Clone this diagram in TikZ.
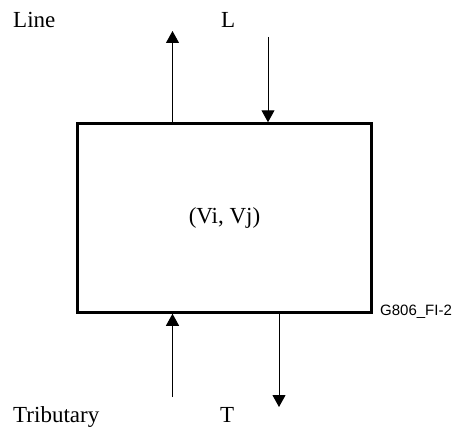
\documentclass[tikz,border=0pt]{standalone}
\usepackage{fontspec}
\setmainfont{Liberation Serif}
\newfontfamily\arialfont{Liberation Sans}
\usetikzlibrary{arrows.meta}
\begin{document}
\begin{tikzpicture}[x=1pt,y=-1pt,
  lbl/.style={font=\fontsize{23}{26}\selectfont, inner sep=0pt, anchor=base west},
  arr/.style={line width=1pt, -{Triangle[width=13pt,length=12pt]}},
  blk/.style={draw, line width=2.5pt, minimum width=294pt, minimum height=189pt, font=\fontsize{23}{26}\selectfont}]
\useasboundingbox (0,0) rectangle (455,428);
\node[blk] (box) at (224.5,218) {(Vi, Vj)};
\node[lbl] (line) at (13,27.5) {Line};
\node[lbl] (L) at (221,27.5) {L};
\node[lbl] (trib) at (13,422) {Tributary};
\node[lbl] (T) at (220,422) {T};
\node[font=\arialfont\fontsize{15}{17}\selectfont, inner sep=0pt, anchor=base west] (fig) at (380,315) {G806\_FI-2};
\coordinate (a1) at (172.5,31);
\coordinate (b1) at (268,37);
\coordinate (c1) at (172.5,397);
\coordinate (d1) at (279,407);
\draw[arr] (box.north -| a1) -- (a1);
\draw[arr] (b1) -- (b1 |- box.north);
\draw[arr] (c1) -- (c1 |- box.south);
\draw[arr] (d1 |- box.south) -- (d1);
\end{tikzpicture}
\end{document}
